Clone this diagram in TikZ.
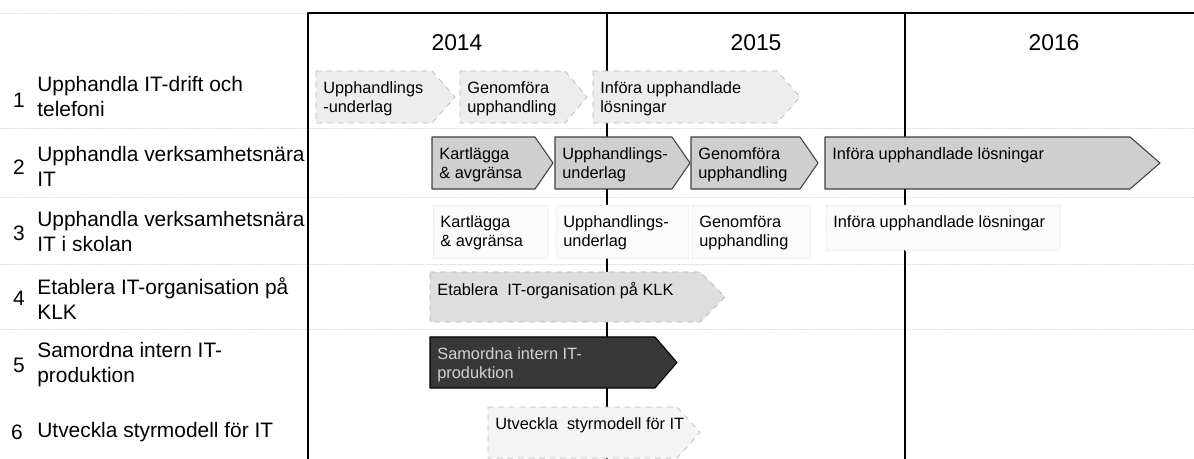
\documentclass[tikz,border=0pt]{standalone}
\usepackage{fontspec}
\setmainfont{Liberation Sans}
\usetikzlibrary{positioning}
% phase arrow: style, name, left, body end, tip, top, bottom, text
\newcommand{\fas}[8]{%
	\draw[#1] (#3,#6) -- (#4,#6) -- (#5,{(#6+#7)/2}) -- (#4,#7) -- (#3,#7) -- cycle;
	\node[fastext] (#2) at (#3+7,#6+10) {#8};}
\tikzset{
	fastext/.style={anchor=north west,inner sep=0pt,align=left,font=\fontsize{9.3}{10.8}\selectfont},
	lab/.style={anchor=west,inner sep=0pt,align=left,font=\fontsize{11.9}{14.2}\selectfont},
	num/.style={inner sep=0pt,font=\fontsize{11.9}{14.2}\selectfont},
	yr/.style={inner sep=0pt,font=\fontsize{13}{15}\selectfont},
	ljus/.style={fill=gray!14,draw=gray!55,dashed},
	mellan/.style={fill=gray!38,draw=black!75,line width=0.6pt},
	mork/.style={fill=black!78,draw=black,line width=0.6pt},
	ghost/.style={fill=gray!3,draw=gray!18,densely dotted},
	sep/.style={gray!35,densely dotted,line width=0.4pt}
}
\begin{document}
\begin{tikzpicture}[x=0.02cm,y=-0.02cm,line join=round,line cap=round]
	\useasboundingbox (0,0) rectangle (1194,459);
	\def \xl{308}
	\def \ytop{13}
	\def \ybot{459}
	% row separators
	\foreach \yy in {128,197,264,329} \draw[sep] (0,\yy)--(1194,\yy);
	\draw[sep] (0,\ytop)--(\xl,\ytop);
	% frame and year lines
	\draw[line width=0.9pt] (\xl,\ybot)--(\xl,\ytop)--(1194,\ytop);
	\draw[line width=0.7pt] (607,\ytop)--(607,\ybot) (905,\ytop)--(905,\ybot);
	\node[yr] (y14) at (457,43) {2014};
	\node[yr] (y15) at (756,43) {2015};
	\node[yr] (y16) at (1054,43) {2016};
	% left column
	\node[num] (n1) at (19,100) {1};
	\node[lab] (l1) at (37,97) {Upphandla IT-drift och\\telefoni};
	\node[num] (n2) at (19,167) {2};
	\node[lab] (l2) at (37,166) {Upphandla verksamhetsnära\\IT};
	\node[num] (n3) at (19,233) {3};
	\node[lab] (l3) at (37,232) {Upphandla verksamhetsnära\\IT i skolan};
	\node[num] (n4) at (19,298) {4};
	\node[lab] (l4) at (37,299) {Etablera IT-organisation på\\KLK};
	\node[num] (n5) at (19,365) {5};
	\node[lab] (l5) at (37,365) {Samordna intern IT-\\produktion};
	\node[num] (n6) at (17,432) {6};
	\node[lab] (l6) at (37,432) {Utveckla styrmodell för IT};
	% row 1
	\fas{ljus}{a1}{316}{432}{455}{71}{123}{Upphandlings\\-underlag}
	\fas{ljus}{a2}{460}{565}{587}{71}{123}{Genomföra\\upphandling}
	\fas{ljus}{a3}{593}{777}{800}{71}{123}{Införa upphandlade\\lösningar}
	% row 2
	\fas{mellan}{b1}{432}{535}{553}{137}{189}{Kartlägga\\\& avgränsa}
	\fas{mellan}{b2}{555}{672}{690}{137}{189}{Upphandlings-\\underlag}
	\fas{mellan}{b3}{691}{800}{818}{137}{189}{Genomföra\\upphandling}
	\fas{mellan}{b4}{825}{1130}{1160}{137}{189}{Införa upphandlade lösningar}
	% row 3
	\fas{ghost}{c1}{433}{548}{548}{205}{258}{Kartlägga\\\& avgränsa}
	\fas{ghost}{c2}{556}{688}{688}{205}{258}{Upphandlings-\\underlag}
	\fas{ghost}{c3}{692}{810}{810}{205}{258}{Genomföra\\upphandling}
	\fas{ghost}{c4}{826}{1060}{1060}{205}{250}{Införa upphandlade lösningar}
	% rows 4-6
	\fas{fill=gray!26,draw=gray!60,dashed}{d1}{430}{700}{725}{272}{322}{Etablera \ IT-organisation på KLK}
	\fas{mork}{e1}{430}{655}{677}{337}{388}{\color{gray!35}Samordna intern IT-\\\color{gray!35}produktion}
	\fas{fill=gray!9,draw=gray!55,dashed}{f1}{488}{677}{700}{407}{458}{Utveckla \ styrmodell för IT}
\end{tikzpicture}
\end{document}
